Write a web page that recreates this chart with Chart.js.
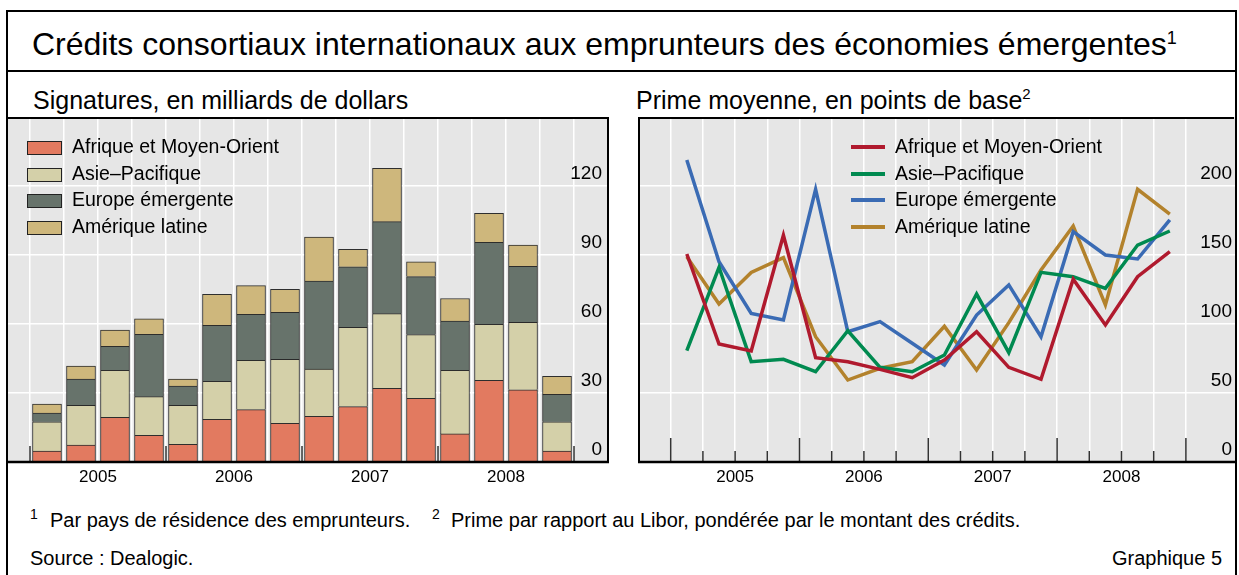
<!DOCTYPE html>
<html lang="fr">
<head>
<meta charset="UTF-8">
<title>Crédits consortiaux internationaux aux emprunteurs des économies émergentes</title>
<script src="https://cdn.jsdelivr.net/npm/chart.js"></script>
<style>
  body {
    margin: 0;
    width: 1239px;
    height: 575px;
    position: relative;
    overflow: hidden;
    background: #fff;
    font-family: 'Liberation Sans', Arial, sans-serif;
    color: #000;
  }
  .cadre { position: absolute; left: 6px; top: 10px; width: 1227px; height: 600px; border: 2px solid #000; }
  .filet { position: absolute; left: 6px; top: 70px; width: 1231px; height: 2px; background: #000; }
  .txt { position: absolute; white-space: nowrap; }
  .exp { position: relative; }
  .titre { left: 32px; top: 28px; font-size: 32px; line-height: 32px; }
  .titre .exp { font-size: 18px; top: -11px; }
  .sous { top: 88px; font-size: 25px; line-height: 25px; }
  .sous .exp { font-size: 15px; top: -10px; }
  .note { font-size: 20px; line-height: 20px; }
  .note .exp { font-size: 14px; top: -8px; }
  canvas { position: absolute; }
  .legende { position: absolute; font-size: 19.5px; line-height: 19.5px; }
  .legende div { position: relative; height: 26.5px; white-space: nowrap; }
  .legende span.m { position: absolute; }
  .legende span.l { position: absolute; top: 0; }
</style>
</head>
<body>
<div class="cadre"></div>
<div class="filet"></div>
<div class="txt titre">Crédits consortiaux internationaux aux emprunteurs des économies émergentes<span class="exp">1</span></div>
<div class="txt sous" style="left:33px">Signatures, en milliards de dollars</div>
<div class="txt sous" style="left:636px">Prime moyenne, en points de base<span class="exp">2</span></div>

<canvas id="volumes" width="601" height="384" style="left:8px; top:116px; width:601px; height:384px"></canvas>
<canvas id="primes" width="597" height="384" style="left:638px; top:116px; width:597px; height:384px"></canvas>

<div class="legende" id="legVolumes" style="left:27px; top:137px"></div>
<div class="legende" id="legPrimes" style="left:851px; top:137px"></div>

<div class="txt note" style="left:30px; top:510px"><span class="exp">1</span></div>
<div class="txt note" style="left:50px; top:510px">Par pays de résidence des emprunteurs.</div>
<div class="txt note" style="left:432px; top:510px"><span class="exp">2</span></div>
<div class="txt note" style="left:451px; top:510px">Prime par rapport au Libor, pondérée par le montant des crédits.</div>
<div class="txt note" style="left:30px; top:548px">Source : Dealogic.</div>
<div class="txt note" style="right:17px; top:548px">Graphique 5</div>

<script>
// trimestres 2005 T1 -> 2008 T4
const trimestres = ['T1 2005', 'T2 2005', 'T3 2005', 'T4 2005',
                    'T1 2006', 'T2 2006', 'T3 2006', 'T4 2006',
                    'T1 2007', 'T2 2007', 'T3 2007', 'T4 2007',
                    'T1 2008', 'T2 2008', 'T3 2008', 'T4 2008'];
const annees = ['2005', '2006', '2007', '2008'];
const regions = ['Afrique et Moyen-Orient', 'Asie–Pacifique', 'Europe émergente', 'Amérique latine'];

// signatures, milliards de dollars
const signAfrique  = [4.8, 7.4, 19.4, 11.6, 7.7, 18.5, 22.8, 16.8, 19.9, 24.1, 32.0, 27.7, 12.2, 35.5, 31.4, 4.8];
const signAsie     = [12.7, 17.2, 20.5, 16.8, 16.9, 16.6, 21.4, 27.8, 20.5, 34.4, 32.5, 27.7, 27.7, 24.4, 29.3, 12.7];
const signEurope   = [3.8, 11.4, 10.4, 27.1, 8.4, 24.3, 20.0, 20.5, 38.3, 26.4, 40.0, 25.2, 21.4, 35.6, 24.4, 11.9];
const signAmerique = [3.9, 5.7, 7.1, 6.8, 3.0, 13.5, 12.5, 10.0, 19.1, 7.6, 23.2, 6.4, 9.8, 12.6, 9.2, 7.9];

// prime moyenne, points de base
const primeAfrique  = [150.7, 85.5, 80.4, 164.3, 75.6, 72.7, 67.1, 61.1, 73.9, 94.4, 68.6, 59.9, 132.5, 99.3, 134.3, 152.4];
const primeAsie     = [80.7, 141.1, 72.7, 74.4, 65.4, 95.1, 68.6, 65.4, 77.5, 121.7, 79.2, 137.4, 134.3, 125.8, 157.2, 167.4];
const primeEurope   = [218.8, 145.1, 107.7, 102.9, 197.6, 94.4, 101.7, 86.0, 70.3, 106.5, 128.3, 90.8, 166.9, 150.0, 147.1, 175.4];
const primeAmerique = [148.8, 114.5, 137.4, 148.1, 90.8, 59.4, 67.9, 72.7, 98.3, 66.7, 101.0, 139.1, 171.0, 113.8, 197.6, 179.7];

const couleursBarres = ['#e27a60', '#d4d0a9', '#67736b', '#ceb77c'];
const couleursLignes = ['#b01a2e', '#008a50', '#3a6bb4', '#b3822c'];

Chart.defaults.font.family = "'Liberation Sans', Arial, sans-serif";
Chart.defaults.color = '#000';

// fond gris, cadre du panneau, graduations en bas
const panneau = {
  id: 'panneau',
  beforeDraw(chart) {
    const { ctx, chartArea: a } = chart;
    ctx.save();
    ctx.fillStyle = '#e6e6e6';
    ctx.fillRect(a.left, a.top, a.right - a.left, a.bottom - a.top);
    ctx.restore();
  },
  beforeDatasetsDraw(chart, args, opts) {
    const { ctx, chartArea: a, scales: { x } } = chart;
    ctx.save();
    ctx.strokeStyle = '#333';
    ctx.lineWidth = 1.5;
    for (let k = 0; k <= trimestres.length; k++) {
      const len = k % 4 === 0 ? opts.majeur : opts.mineur;
      if (!len) continue;
      const px = x.getPixelForValue(k - 0.5);
      ctx.beginPath();
      ctx.moveTo(px, a.bottom);
      ctx.lineTo(px, a.bottom - len);
      ctx.stroke();
    }
    ctx.restore();
  },
  afterDraw(chart, args, opts) {
    const { ctx, chartArea: a } = chart;
    ctx.save();
    ctx.strokeStyle = '#000';
    ctx.lineWidth = 2;
    ctx.beginPath();
    if (opts.gauche) { ctx.moveTo(a.left + 1, a.bottom); ctx.lineTo(a.left + 1, a.top + 1); }
    else ctx.moveTo(a.left, a.top + 1);
    ctx.lineTo(a.right - 1, a.top + 1);
    if (opts.droite) ctx.lineTo(a.right - 1, a.bottom);
    ctx.stroke();
    ctx.lineWidth = 2.5;
    ctx.beginPath();
    ctx.moveTo(a.left, a.bottom);
    ctx.lineTo(a.right, a.bottom);
    ctx.stroke();
    ctx.restore();
  }
};

function axeX(min, max) {
  return {
    type: 'linear',
    min: min,
    max: max,
    offset: false,
    stacked: true,
    afterBuildTicks: (s) => {
      const t = [];
      for (let k = 0; k <= trimestres.length; k++) t.push({ value: k - 0.5 });
      s.ticks = t;
    },
    afterFit: (s) => { s.height = 38; s.paddingLeft = 0; s.paddingRight = 0; },
    grid: { color: '#fff', lineWidth: 1.5, drawTicks: false, offset: false },
    border: { display: false },
    ticks: {
      autoSkip: false,
      maxRotation: 0,
      padding: 5,
      font: { size: 17 },
      callback: (v) => {
        const k = (v - 1.5) / 4;
        return Number.isInteger(k) && annees[k] ? annees[k] : '';
      }
    }
  };
}

function axeY(max, pas, pad, empile) {
  return {
    position: 'right',
    min: 0,
    max: max,
    stacked: empile,
    afterFit: (s) => { s.width = 0; s.paddingTop = 0; s.paddingBottom = 0; },
    grid: { color: '#fff', lineWidth: 1.5, drawTicks: false },
    border: { display: false },
    ticks: {
      stepSize: pas,
      mirror: true,
      padding: pad,
      labelOffset: -12,
      font: { size: 19 },
      callback: (v) => v >= max ? null : v
    }
  };
}

new Chart(document.getElementById('volumes'), {
  type: 'bar',
  data: {
    datasets: [signAfrique, signAsie, signEurope, signAmerique].map((serie, j) => ({
      label: regions[j],
      data: serie.map((v, i) => ({ x: i, y: v })),
      backgroundColor: couleursBarres[j],
      borderColor: 'rgba(25,25,25,0.9)',
      borderWidth: 1,
      barThickness: 29
    }))
  },
  options: {
    responsive: false,
    animation: false,
    layout: { padding: { top: 1, left: 0, right: 0, bottom: 0 } },
    plugins: {
      legend: { display: false },
      tooltip: { enabled: false },
      panneau: { majeur: 16, mineur: 0, gauche: false, droite: true }
    },
    scales: {
      x: axeX(-1.147, 16.529),
      y: axeY(150, 30, -7, true)
    }
  },
  plugins: [panneau]
});

new Chart(document.getElementById('primes'), {
  type: 'line',
  data: {
    datasets: [primeAfrique, primeAsie, primeEurope, primeAmerique].map((serie, j) => ({
      label: regions[j],
      data: serie.map((v, i) => ({ x: i, y: v })),
      borderColor: couleursLignes[j],
      backgroundColor: couleursLignes[j],
      borderWidth: 3.5,
      pointRadius: 0,
      tension: 0,
      fill: false
    }))
  },
  options: {
    responsive: false,
    animation: false,
    layout: { padding: { top: 1, left: 0, right: 0, bottom: 0 } },
    plugins: {
      legend: { display: false },
      tooltip: { enabled: false },
      panneau: { majeur: 24, mineur: 11, gauche: true, droite: false }
    },
    scales: {
      x: axeX(-1.516, 17.025),
      y: axeY(250, 50, -3, false)
    }
  },
  plugins: [panneau]
});

// légendes HTML
function legende(id, type, couleurs) {
  const el = document.getElementById(id);
  regions.forEach((nom, j) => {
    const ligne = document.createElement('div');
    const m = document.createElement('span');
    m.className = 'm';
    if (type === 'barre') {
      m.style.cssText = 'left:0; top:4px; width:33px; height:12px; border:1px solid #222; background:' + couleurs[j];
    } else {
      m.style.cssText = 'left:0; top:8px; width:34px; height:4px; background:' + couleurs[j];
    }
    const l = document.createElement('span');
    l.className = 'l';
    l.style.left = (type === 'barre' ? 45 : 44) + 'px';
    l.textContent = nom;
    ligne.appendChild(m);
    ligne.appendChild(l);
    el.appendChild(ligne);
  });
}
legende('legVolumes', 'barre', couleursBarres);
legende('legPrimes', 'ligne', couleursLignes);
</script>
</body>
</html>
